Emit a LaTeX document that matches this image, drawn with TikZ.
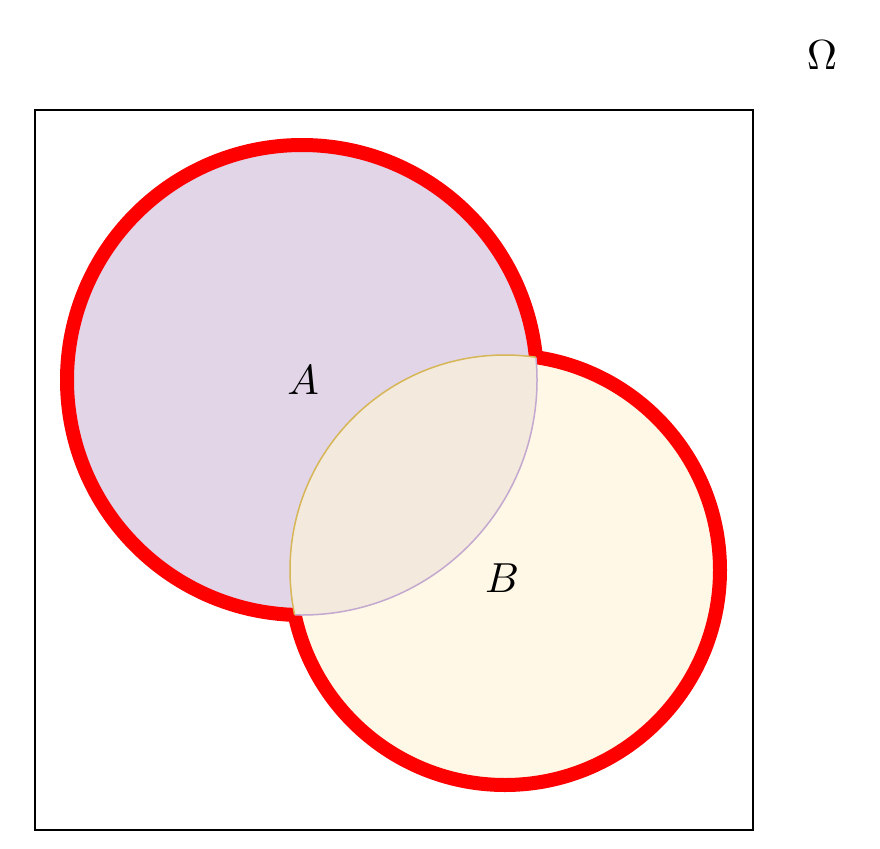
\documentclass[tikz,border=0pt]{standalone}
\usepackage{tikz}
\usepackage{xcolor}
\definecolor{setA}{HTML}{E1D5E7}
\definecolor{setB}{HTML}{FFF4D9}
\definecolor{edgeA}{HTML}{C3A8CF}
\definecolor{edgeB}{HTML}{D6B656}
\tikzset{
  rim/.style={draw=red, line width=14pt},
  lbl/.style={scale=4.2}
}
\begin{document}
\begin{tikzpicture}[x=1pt,y=-1pt]
\useasboundingbox (0,0) rectangle (880,848);
\draw[line width=2pt] (35,110) rectangle (753,830);

% fills
\fill[setA] (302,380) circle (235);
\fill[setB, opacity=0.65] (505,570) circle (215);

% outer rim of the union
\begin{scope}[even odd rule]
\clip (0,0) rectangle (880,848) (505,570) circle (215);
\draw[rim] (302,380) circle (235);
\end{scope}
\begin{scope}[even odd rule]
\clip (0,0) rectangle (880,848) (302,380) circle (235);
\draw[rim] (505,570) circle (215);
\end{scope}

% inner arcs
\begin{scope}
\clip (505,570) circle (215);
\draw[edgeA, line width=1.5pt] (302,380) circle (235);
\end{scope}
\begin{scope}
\clip (302,380) circle (235);
\draw[edgeB, line width=1.5pt] (505,570) circle (215);
\end{scope}

\node[lbl] (labA) at (303,380) {$A$};
\node[lbl] (labB) at (502,578) {$B$};
\node[lbl] (omega) at (822,55) {$\Omega$};
\end{tikzpicture}
\end{document}
